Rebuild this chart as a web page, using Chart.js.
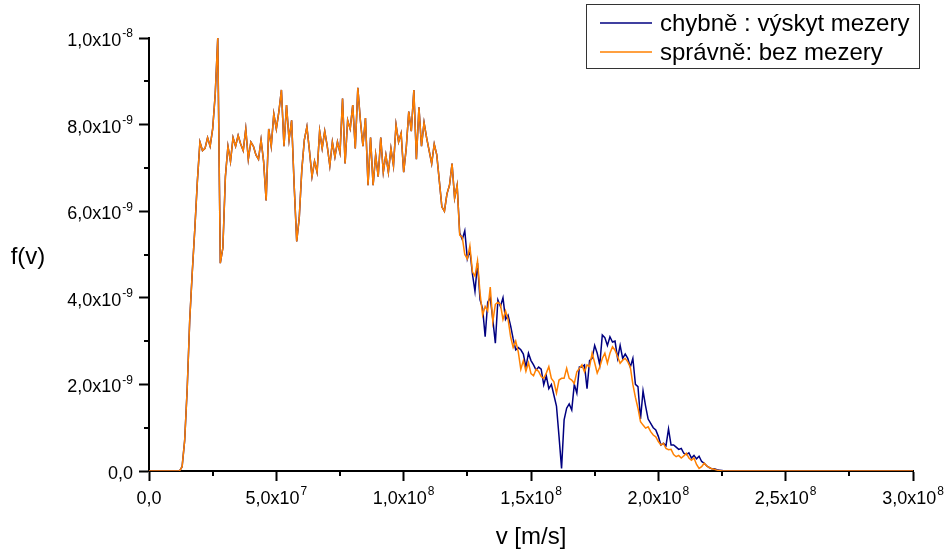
<!doctype html>
<html lang="cs">
<head>
  <meta charset="utf-8">
  <title>f(v)</title>
  <script src="https://cdn.jsdelivr.net/npm/chart.js@4"></script>
  <style>
    html, body { margin: 0; padding: 0; background: #fff; }
    #wrap { width: 950px; height: 554px; }
  </style>
</head>
<body>
  <div id="wrap"><canvas id="chart" width="950" height="554"></canvas></div>

  <script>
    // v in 10^6 m/s, f(v) in 10^-9
    const speed = [
      0,
      12, 13, 14, 15, 16, 17, 18, 19, 20, 21,
      22, 23, 24, 25, 26, 27, 28, 29, 30, 31,
      32, 33, 34, 35, 36, 37, 38, 39, 40, 41,
      42, 43, 44, 45, 46, 47, 48, 49, 50, 51,
      52, 53, 54, 55, 56, 57, 58, 59, 60, 61,
      62, 63, 64, 65, 66, 67, 68, 69, 70, 71,
      72, 73, 74, 75, 76, 77, 78, 79, 80, 81,
      82, 83, 84, 85, 86, 87, 88, 89, 90, 91,
      92, 93, 94, 95, 96, 97, 98, 99, 100, 101,
      102, 103, 104, 105, 106, 107, 108, 109, 110, 111,
      112, 113, 114, 115, 116, 117, 118, 119, 120, 121,
      122, 123, 124, 125, 126, 127, 128, 129, 130, 131,
      132, 133, 134, 135, 136, 137, 138, 139, 140, 141,
      142, 143, 144, 145, 146, 147, 148, 149, 150, 151,
      152, 153, 154, 155, 156, 157, 158, 159, 160, 161,
      162, 163, 164, 165, 166, 167, 168, 169, 170, 171,
      172, 173, 174, 175, 176, 177, 178, 179, 180, 181,
      182, 183, 184, 185, 186, 187, 188, 189, 190, 191,
      192, 193, 194, 195, 196, 197, 198, 199, 200, 201,
      202, 203, 204, 205, 206, 207, 208, 209, 210, 211,
      212, 213, 214, 215, 216, 217, 218, 219, 220, 221,
      222, 223, 224, 225, 226, 227, 228, 229, 230,
      300
    ];

    // chybně : výskyt mezery
    const chybne = [
      0,
      0, 0.1, 0.7, 1.9, 3.5, 4.6, 5.6, 6.7, 7.6, 7.4,
      7.45, 7.7, 7.5, 7.9, 8.7, 10.0, 4.8, 5.15, 6.8, 7.5,
      7.15, 7.7, 7.5, 7.75, 7.55, 7.4, 7.9, 7.2, 7.6, 7.5,
      7.3, 7.2, 7.65, 7.15, 6.25, 7.9, 7.5, 8.25, 7.9, 8.3,
      8.8, 7.5, 8.45, 7.65, 8.1, 6.6, 5.3, 5.85, 6.95, 7.65,
      7.95, 7.4, 6.8, 7.15, 6.9, 7.85, 7.45, 7.85, 7.5, 7.05,
      7.6, 7.25, 7.6, 7.35, 8.6, 7.1, 8.1, 7.9, 8.45, 7.45,
      8.85, 8.1, 7.5, 8.15, 6.6, 7.7, 6.6, 7.3, 6.8, 7.7,
      6.9, 7.3, 6.9, 7.45, 7.05, 8.0, 7.6, 7.8, 6.9, 7.45,
      8.3, 7.85, 8.8, 7.2, 8.4, 7.5, 8.05, 7.7, 7.4, 7.1,
      7.55, 7.3, 6.7, 6.1, 6.0, 6.4, 6.6, 7.1, 6.3, 6.6,
      5.5, 5.35, 5.55, 4.9, 5.1, 4.55, 4.15, 4.8, 3.95, 3.75,
      3.1, 3.9, 4.0, 3.5, 2.95, 3.95, 3.8, 4.0, 3.5, 3.6,
      3.35, 3.05, 2.8, 2.85, 2.8, 2.7, 2.4, 2.72, 2.55, 2.45,
      2.33, 2.4, 2.35, 1.99, 2.2, 1.9, 2.0, 1.75, 1.5, 0.8,
      0.06, 1.18, 1.45, 1.55, 1.41, 2.0, 1.8, 2.4, 2.4, 2.45,
      1.9, 2.55, 2.6, 2.9, 2.72, 2.45, 3.14, 3.08, 2.9, 3.1,
      2.98, 3.0, 2.6, 2.9, 2.6, 2.7, 2.6, 2.4, 2.6, 2.0,
      1.95, 1.2, 1.85, 1.5, 1.2, 1.1, 1.0, 0.95, 0.8, 0.6,
      0.64, 0.58, 0.97, 0.6, 0.6, 0.55, 0.5, 0.52, 0.41, 0.38,
      0.42, 0.3, 0.36, 0.28, 0.34, 0.22, 0.18, 0.12, 0.08, 0.05,
      0.05, 0.03, 0.02, 0.01, 0, 0, 0, 0, 0,
      0
    ];

    // správně: bez mezery
    const spravne = [
      0,
      0, 0.1, 0.7, 1.9, 3.5, 4.6, 5.6, 6.7, 7.6, 7.4,
      7.45, 7.7, 7.5, 7.9, 8.7, 10.0, 4.8, 5.15, 6.8, 7.5,
      7.15, 7.7, 7.5, 7.75, 7.55, 7.4, 7.9, 7.2, 7.6, 7.5,
      7.3, 7.2, 7.65, 7.15, 6.25, 7.9, 7.5, 8.25, 7.9, 8.3,
      8.8, 7.5, 8.45, 7.65, 8.1, 6.6, 5.3, 5.85, 6.95, 7.65,
      7.95, 7.4, 6.8, 7.15, 6.9, 7.85, 7.45, 7.85, 7.5, 7.05,
      7.6, 7.25, 7.6, 7.35, 8.6, 7.1, 8.1, 7.9, 8.45, 7.45,
      8.85, 8.1, 7.5, 8.15, 6.6, 7.7, 6.6, 7.3, 6.8, 7.7,
      6.9, 7.3, 6.9, 7.45, 7.05, 8.0, 7.6, 7.8, 6.9, 7.45,
      8.3, 7.85, 8.8, 7.2, 8.4, 7.5, 8.05, 7.7, 7.4, 7.1,
      7.55, 7.3, 6.7, 6.1, 6.0, 6.4, 6.6, 7.1, 6.3, 6.6,
      5.45, 5.4, 5.0, 4.9, 5.2, 4.6, 4.5, 4.85, 4.1, 3.6,
      3.8, 3.7, 4.25, 3.45, 3.85, 3.9, 3.85, 3.5, 3.7, 3.5,
      3.1, 2.85, 3.0, 2.75, 2.35, 2.55, 2.3, 2.5, 2.25, 2.2,
      2.35, 2.3, 2.18, 2.14, 2.26, 2.41, 2.14, 2.06, 1.8, 2.1,
      2.14, 2.14, 2.37, 2.14, 2.1, 2.02, 2.29, 2.37, 2.45, 2.29,
      2.45, 2.41, 2.72, 2.5, 2.26, 2.4, 2.6, 2.72, 2.49, 2.72,
      2.87, 2.79, 2.64, 2.49, 2.56, 2.6, 2.52, 2.4, 2.0, 1.7,
      1.45, 1.14, 1.06, 0.99, 1.02, 0.91, 0.83, 0.79, 0.68, 0.6,
      0.64, 0.52, 0.49, 0.5, 0.38, 0.33, 0.36, 0.3, 0.35, 0.41,
      0.3, 0.25, 0.3, 0.15, 0.06, 0.1, 0.18, 0.12, 0.08, 0.05,
      0.04, 0.02, 0.01, 0, 0, 0, 0, 0, 0,
      0
    ];

    const labels = ['chybně : výskyt mezery', 'správně: bez mezery'];
    const colors = ['#000080', '#FF8000'];
    const xTitle = 'v [m/s]';
    const yTitle = 'f(v)';

    const FONT = "'Liberation Sans', Arial, sans-serif";

    // split a tick value into "5,0x10" and its exponent "7"
    function sciParts(v) {
      if (Math.abs(v) < 1e-30) return ['0,0', ''];
      const e = Math.floor(Math.log10(Math.abs(v)) + 1e-9);
      const m = v / Math.pow(10, e);
      return [m.toFixed(1).replace('.', ',') + 'x10', String(e)];
    }

    // draws a label with a raised, smaller exponent
    function drawSci(ctx, v, x, y, align) {
      const [mant, exp] = sciParts(v);
      ctx.font = '18px ' + FONT;
      const w1 = ctx.measureText(mant).width;
      ctx.font = '12px ' + FONT;
      const w2 = exp ? ctx.measureText(exp).width + 1 : 0;
      const x0 = align === 'right' ? x - w1 - w2 : x - (w1 + w2) / 2;
      ctx.textAlign = 'left';
      ctx.textBaseline = 'middle';
      ctx.font = '18px ' + FONT;
      ctx.fillText(mant, x0, y);
      if (exp) {
        ctx.font = '12px ' + FONT;
        ctx.fillText(exp, x0 + w1 + 1, y - 7);
      }
    }

    function points(ys) {
      return speed.map((s, i) => ({ x: s * 1e6, y: ys[i] * 1e-9 }));
    }

    // tick labels, minor ticks, axis titles and the boxed legend
    const decor = {
      id: 'decor',
      afterDraw(chart) {
        const { ctx, chartArea: a, scales: { x, y } } = chart;
        ctx.save();
        ctx.strokeStyle = '#000';
        ctx.lineWidth = 2;
        ctx.beginPath();
        const xt = x.ticks;
        for (let i = 0; i < xt.length - 1; i++) {
          const px = Math.round(x.getPixelForValue((xt[i].value + xt[i + 1].value) / 2));
          ctx.moveTo(px, a.bottom);
          ctx.lineTo(px, a.bottom + 5);
        }
        const yt = y.ticks;
        for (let i = 0; i < yt.length - 1; i++) {
          const py = Math.round(y.getPixelForValue((yt[i].value + yt[i + 1].value) / 2));
          ctx.moveTo(a.left - 5, py);
          ctx.lineTo(a.left, py);
        }
        ctx.stroke();

        ctx.fillStyle = '#000';
        xt.forEach(t => drawSci(ctx, t.value, x.getPixelForValue(t.value), a.bottom + 28, 'center'));
        yt.forEach(t => drawSci(ctx, t.value, a.left - 16, y.getPixelForValue(t.value) + 3, 'right'));

        ctx.font = '24px ' + FONT;
        ctx.textBaseline = 'middle';
        ctx.textAlign = 'center';
        ctx.fillText(xTitle, (a.left + a.right) / 2, 537);
        ctx.fillText(yTitle, 28, (a.top + a.bottom) / 2 + 3);

        // legend box
        ctx.lineWidth = 1;
        ctx.strokeStyle = '#333';
        ctx.strokeRect(586.5, 4.5, 333, 64);
        ctx.textAlign = 'left';
        labels.forEach((t, i) => {
          const ly = 23 + i * 29;
          ctx.strokeStyle = colors[i];
          ctx.lineWidth = 1.5;
          ctx.beginPath();
          ctx.moveTo(600, ly);
          ctx.lineTo(652, ly);
          ctx.stroke();
          ctx.fillText(t, 660, ly + 1);
        });
        ctx.restore();
      }
    };

    new Chart(document.getElementById('chart'), {
      type: 'line',
      data: {
        datasets: [
          { label: labels[0], data: points(chybne), borderColor: colors[0],
            borderWidth: 1.5, pointRadius: 0, tension: 0, order: 1 },
          { label: labels[1], data: points(spravne), borderColor: colors[1],
            borderWidth: 1.5, pointRadius: 0, tension: 0, order: 0 }
        ]
      },
      options: {
        responsive: false,
        animation: false,
        events: [],
        layout: { padding: { top: 38, right: 37, left: 0, bottom: 0 } },
        plugins: { legend: { display: false }, tooltip: { enabled: false } },
        scales: {
          x: {
            type: 'linear', min: 0, max: 3e8,
            afterFit: s => { s.height = 83; },
            border: { display: true, color: '#000', width: 2 },
            grid: { drawOnChartArea: false, tickLength: 10, tickWidth: 2, tickColor: '#000' },
            ticks: { stepSize: 5e7, display: false }
          },
          y: {
            type: 'linear', min: 0, max: 1e-8,
            afterFit: s => { s.width = 149; },
            border: { display: true, color: '#000', width: 2 },
            grid: { drawOnChartArea: false, tickLength: 10, tickWidth: 2, tickColor: '#000' },
            ticks: { stepSize: 2e-9, display: false }
          }
        }
      },
      plugins: [decor]
    });
  </script>
</body>
</html>
